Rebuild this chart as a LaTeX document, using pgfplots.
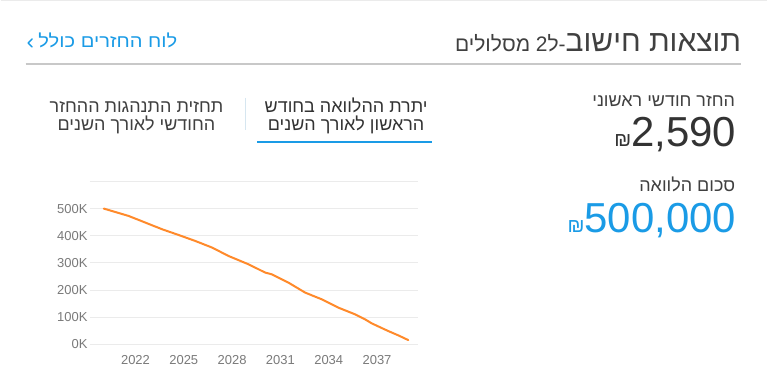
\documentclass[border=0pt]{standalone}
\usepackage{fontspec}
\setmainfont{Liberation Sans}
\newfontfamily\heb[Script=Hebrew]{Liberation Sans}
\usepackage{pgfplots}
\pgfplotsset{compat=1.18}
\TeXXeTstate=1
\definecolor{txt}{HTML}{404040}
\definecolor{dark}{HTML}{333333}
\definecolor{blu}{HTML}{1A9BE6}
\definecolor{org}{HTML}{FF8A2B}
\definecolor{grd}{HTML}{EBEBEB}
\definecolor{tck}{HTML}{7A7A7A}
\definecolor{sep}{HTML}{C8C8C8}
\definecolor{vsep}{HTML}{D6E6F0}
\pgfplotstableread{
year value
2020.03 500000
2021.58 472700
2023.66 423700
2024.68 402700
2025.72 380600
2026.76 356300
2027.78 325400
2029.02 294800
2030.06 264200
2030.47 257900
2031.50 227300
2032.54 190500
2033.57 165800
2034.60 135200
2035.64 110500
2036.26 92100
2036.67 77400
2037.70 49000
2038.32 33200
2038.94 15800
}\balance
\begin{document}
\begin{tikzpicture}[x=1pt,y=1pt]
\fill[white] (0,0) rectangle (768,386);
\draw[line width=1.5pt, color=grd] (0,385.3) -- (768,385.3);
% header
\node[anchor=base east, inner sep=0, text=txt] at (742,334)
  {\heb\beginR{\fontsize{30}{36}\selectfont תוצאות חישוב}{\fontsize{21}{24}\selectfont -ל2 מסלולים}\endR};
\node[anchor=base east, inner sep=0, text=blu] at (177,338)
  {\scalebox{1.12}[1]{\heb\fontsize{18}{20}\selectfont\beginR לוח החזרים כולל\endR}};
\draw[blu, line width=1.4pt, line cap=round, line join=round] (31.5,347) -- (27.5,343) -- (31.5,339);
\draw[sep, line width=1.5pt] (25,322) -- (742,322);
% tabs
\node[anchor=base, inner sep=0, text=dark] at (346,273)
  {\heb\fontsize{18}{20}\selectfont\beginR יתרת ההלוואה בחודש\endR};
\node[anchor=base, inner sep=0, text=dark] at (346,255)
  {\heb\fontsize{18}{20}\selectfont\beginR הראשון לאורך השנים\endR};
\draw[blu, line width=2pt] (257,244) -- (432,244);
\draw[vsep, line width=1pt] (245,288) -- (245,256);
\node[anchor=base, inner sep=0, text=txt] at (136,273)
  {\heb\fontsize{18}{20}\selectfont\beginR תחזית התנהגות ההחזר\endR};
\node[anchor=base, inner sep=0, text=txt] at (136,255)
  {\heb\fontsize{18}{20}\selectfont\beginR החודשי לאורך השנים\endR};
% right panel
\node[anchor=base east, inner sep=0, text=txt] at (736,279)
  {\heb\fontsize{18}{20}\selectfont\beginR החזר חודשי ראשוני\endR};
\node[anchor=base east, inner sep=0, text=dark] at (737,239)
  {{\fontsize{20}{22}\selectfont ₪}\fontsize{42}{46}\selectfont 2,590};
\node[anchor=base east, inner sep=0, text=txt] at (736,194)
  {\heb\fontsize{18}{20}\selectfont\beginR סכום הלוואה\endR};
\node[anchor=base east, inner sep=0, text=blu] at (737,153)
  {{\fontsize{20}{22}\selectfont ₪}\fontsize{42}{46}\selectfont 500,000};
% chart
\begin{axis}[
  at={(89pt,41pt)}, anchor=south west,
  scale only axis, width=329pt, height=163.3pt,
  xmin=2019.15, xmax=2039.54, ymin=0, ymax=600000,
  axis line style={draw=none},
  major tick length=0pt,
  scaled y ticks=false, scaled x ticks=false,
  ytick={0,100000,200000,300000,400000,500000,600000},
  yticklabels={0K,100K,200K,300K,400K,500K,{}},
  xtick={2022,2025,2028,2031,2034,2037},
  xticklabels={2022,2025,2028,2031,2034,2037},
  ymajorgrids, grid style={grd, line width=1pt},
  tick label style={font=\fontsize{13}{15}\selectfont, text=tck},
  xticklabel style={yshift=-8pt},
  yticklabel style={xshift=1.5pt},
  clip=false,
]
\addplot[org, line width=2pt, line join=round, line cap=round] table[x=year,y=value] {\balance};
\end{axis}
\end{tikzpicture}
\end{document}
